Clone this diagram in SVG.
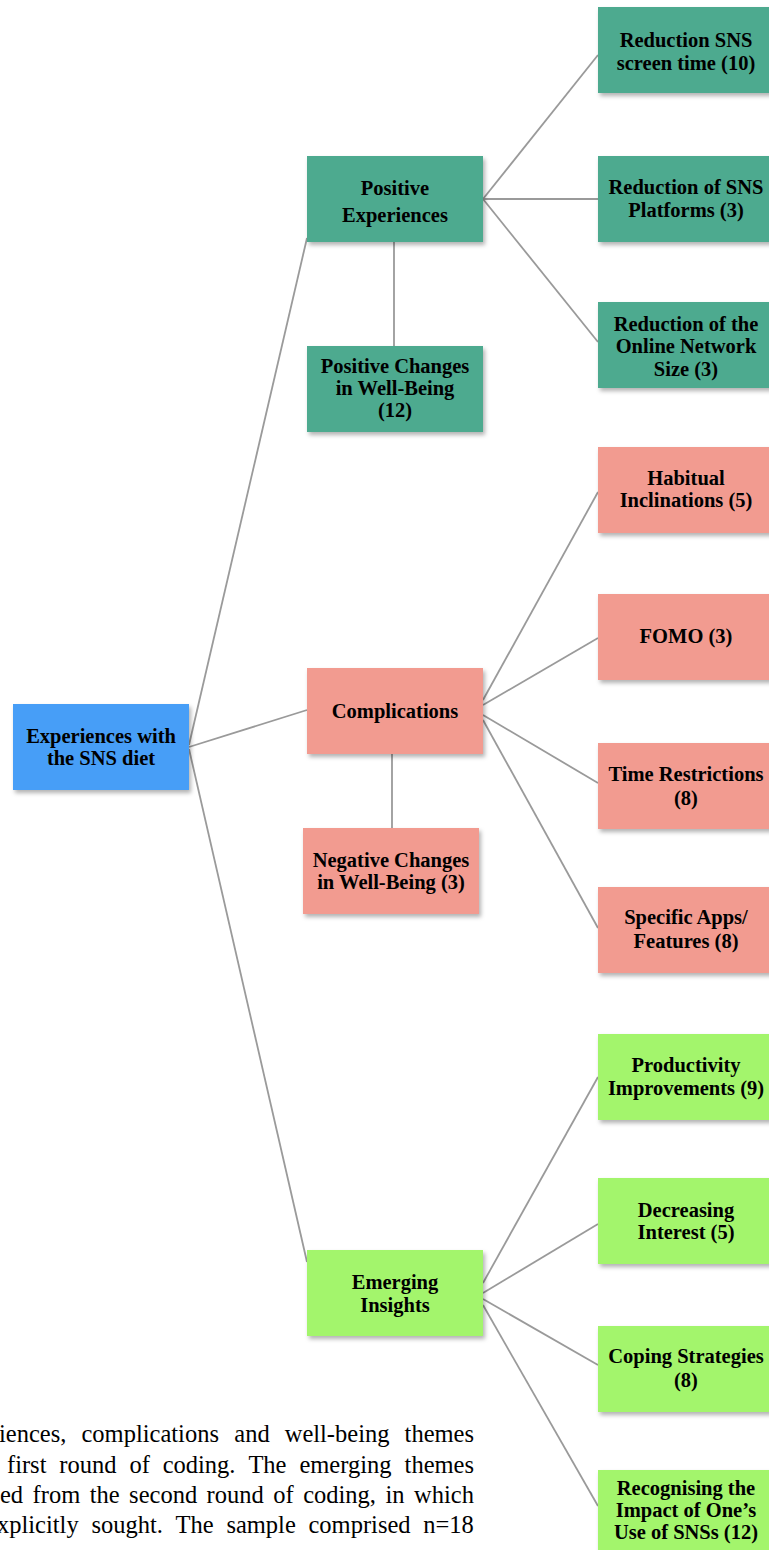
<svg xmlns="http://www.w3.org/2000/svg" width="769" height="1550" viewBox="0 0 769 1550">
<style>
.lbl{font-family:"Liberation Serif","Times New Roman",serif;font-weight:bold;font-size:20.5px;fill:#000;text-anchor:middle}
.cap{font-family:"Liberation Serif","Times New Roman",serif;font-size:24.5px;fill:#000}
.teal{fill:#4DAA8F}
.pink{fill:#F29B90}
.green{fill:#A3F56C}
.blue{fill:#479EF7}
.conn line{stroke:#9A9A9A;stroke-width:1.8;fill:none}
</style>
<defs>
<filter id="sh" x="-10%" y="-10%" width="130%" height="140%">
<feDropShadow dx="2" dy="3" stdDeviation="2.2" flood-color="#000" flood-opacity="0.3"/>
</filter>
</defs>
<rect width="769" height="1550" fill="#fff"/>
<g id="connectors" class="conn">
<line x1="189" y1="745" x2="307" y2="238"/>
<line x1="189" y1="747" x2="307" y2="710"/>
<line x1="189" y1="749" x2="307" y2="1262"/>
<line x1="483" y1="199" x2="598" y2="55"/>
<line x1="483" y1="199" x2="598" y2="199"/>
<line x1="483" y1="199" x2="598" y2="342"/>
<line x1="394" y1="242" x2="394" y2="346"/>
<line x1="483" y1="700" x2="598" y2="492"/>
<line x1="483" y1="705" x2="598" y2="638"/>
<line x1="483" y1="715" x2="598" y2="783"/>
<line x1="483" y1="720" x2="598" y2="928"/>
<line x1="392" y1="754" x2="392" y2="828"/>
<line x1="483" y1="1283" x2="598" y2="1077"/>
<line x1="483" y1="1293" x2="598" y2="1224"/>
<line x1="483" y1="1299" x2="598" y2="1365"/>
<line x1="483" y1="1305" x2="598" y2="1506"/>
</g>
<g id="root"><rect class="blue" x="13" y="704" width="176" height="86" filter="url(#sh)"/><text class="lbl" x="101" y="743">Experiences with</text><text class="lbl" x="101" y="765">the SNS diet</text></g>
<g id="positive-experiences"><rect class="teal" x="307" y="156" width="176" height="86" filter="url(#sh)"/><text class="lbl" x="395" y="195">Positive</text><text class="lbl" x="395" y="222">Experiences</text></g>
<g id="positive-changes"><rect class="teal" x="307" y="346" width="176" height="86" filter="url(#sh)"/><text class="lbl" x="395" y="373">Positive Changes</text><text class="lbl" x="395" y="395">in Well-Being</text><text class="lbl" x="395" y="417">(12)</text></g>
<g id="screen-time"><rect class="teal" x="598" y="7" width="176" height="86" filter="url(#sh)"/><text class="lbl" x="686" y="46.5">Reduction SNS</text><text class="lbl" x="686" y="70">screen time (10)</text></g>
<g id="platforms"><rect class="teal" x="598" y="156" width="176" height="86" filter="url(#sh)"/><text class="lbl" x="686" y="194">Reduction of SNS</text><text class="lbl" x="686" y="217">Platforms (3)</text></g>
<g id="network-size"><rect class="teal" x="598" y="302" width="176" height="86" filter="url(#sh)"/><text class="lbl" x="686" y="330.5">Reduction of the</text><text class="lbl" x="686" y="353">Online Network</text><text class="lbl" x="686" y="375.5">Size (3)</text></g>
<g id="complications"><rect class="pink" x="307" y="668" width="176" height="86" filter="url(#sh)"/><text class="lbl" x="395" y="718">Complications</text></g>
<g id="negative-changes"><rect class="pink" x="303" y="828" width="176" height="86" filter="url(#sh)"/><text class="lbl" x="391" y="867">Negative Changes</text><text class="lbl" x="391" y="889">in Well-Being (3)</text></g>
<g id="habitual"><rect class="pink" x="598" y="447" width="176" height="86" filter="url(#sh)"/><text class="lbl" x="686" y="485">Habitual</text><text class="lbl" x="686" y="507">Inclinations (5)</text></g>
<g id="fomo"><rect class="pink" x="598" y="594" width="176" height="86" filter="url(#sh)"/><text class="lbl" x="686" y="643">FOMO (3)</text></g>
<g id="time-restrictions"><rect class="pink" x="598" y="743" width="176" height="86" filter="url(#sh)"/><text class="lbl" x="686" y="781">Time Restrictions</text><text class="lbl" x="686" y="805">(8)</text></g>
<g id="specific-apps"><rect class="pink" x="598" y="887" width="176" height="86" filter="url(#sh)"/><text class="lbl" x="686" y="924">Specific Apps/</text><text class="lbl" x="686" y="948">Features (8)</text></g>
<g id="emerging-insights"><rect class="green" x="307" y="1250" width="176" height="86" filter="url(#sh)"/><text class="lbl" x="395" y="1289">Emerging</text><text class="lbl" x="395" y="1312">Insights</text></g>
<g id="productivity"><rect class="green" x="598" y="1034" width="176" height="86" filter="url(#sh)"/><text class="lbl" x="686" y="1072">Productivity</text><text class="lbl" x="686" y="1095">Improvements (9)</text></g>
<g id="decreasing-interest"><rect class="green" x="598" y="1178" width="176" height="86" filter="url(#sh)"/><text class="lbl" x="686" y="1217">Decreasing</text><text class="lbl" x="686" y="1239">Interest (5)</text></g>
<g id="coping"><rect class="green" x="598" y="1326" width="176" height="86" filter="url(#sh)"/><text class="lbl" x="686" y="1363">Coping Strategies</text><text class="lbl" x="686" y="1387">(8)</text></g>
<g id="recognising"><rect class="green" x="598" y="1470" width="176" height="86" filter="url(#sh)"/><text class="lbl" x="686" y="1495">Recognising the</text><text class="lbl" x="686" y="1517">Impact of One’s</text><text class="lbl" x="686" y="1539">Use of SNSs (12)</text></g>
<g id="caption">
<text class="cap" y="1442"><tspan x="-1">iences,</tspan><tspan x="81.5">complications</tspan><tspan x="234.3">and</tspan><tspan x="284.7">well-being</tspan><tspan x="404.6">themes</tspan></text>
<text class="cap" y="1473"><tspan x="7">first</tspan><tspan x="59.3">round</tspan><tspan x="129.4">of</tspan><tspan x="162.7">coding.</tspan><tspan x="248.4">The</tspan><tspan x="299.4">emerging</tspan><tspan x="404.6">themes</tspan></text>
<text class="cap" y="1503"><tspan x="0">ed</tspan><tspan x="32.6">from</tspan><tspan x="89.7">the</tspan><tspan x="129.1">second</tspan><tspan x="206.6">round</tspan><tspan x="273.3">of</tspan><tspan x="303.2">coding,</tspan><tspan x="385.5">in</tspan><tspan x="414.1">which</tspan></text>
<text class="cap" y="1533"><tspan x="-3">xplicitly</tspan><tspan x="91.4">sought.</tspan><tspan x="175.6">The</tspan><tspan x="226.4">sample</tspan><tspan x="308.5">comprised</tspan><tspan x="423.3">n=18</tspan></text>
</g>
</svg>
